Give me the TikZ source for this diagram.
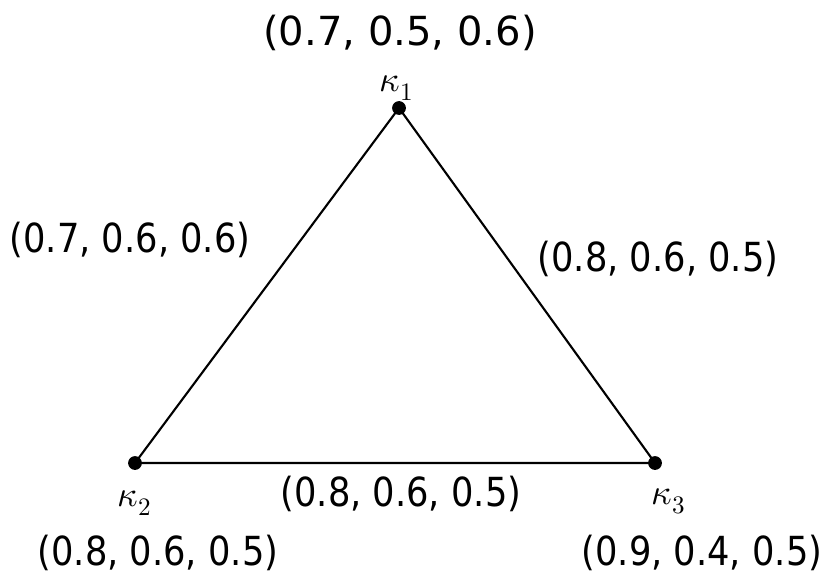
\documentclass[tikz,border=0pt]{standalone}
\usepackage{fontspec}
\setmainfont{DejaVu Sans}[FakeStretch=0.88]
\newfontfamily\widefont{DejaVu Sans}
\usepackage{unicode-math}
\setmathfont{Latin Modern Math}
\begin{document}
\begin{tikzpicture}[every node/.style={font=\fontsize{19}{22}\selectfont},
    kap/.style={font=\fontsize{17}{20}\selectfont}]
  \useasboundingbox (0,0) rectangle (13.75,9.617);
  \coordinate (k1) at (6.65,7.817);
  \coordinate (k2) at (2.25,1.9);
  \coordinate (k3) at (10.917,1.9);
  \draw[line width=1pt] (k1) -- (k2) -- (k3) -- cycle;
  \foreach \v in {k1,k2,k3}
    \fill (\v) circle (0.115);
  \node[kap] (l1) at (6.617,8.15) {$\kappa_1$};
  \node[kap] (l2) at (2.25,1.233) {$\kappa_2$};
  \node[kap] (l3) at (11.15,1.267) {$\kappa_3$};
  \node[font=\widefont\fontsize{19}{22}\selectfont] (t1) at (6.667,9.075) {(0.7, 0.5, 0.6)};
  \node (t2) at (2.633,0.4) {(0.8, 0.6, 0.5)};
  \node (t3) at (11.7,0.4) {(0.9, 0.4, 0.5)};
  \node (e12) at (2.167,5.617) {(0.7, 0.6, 0.6)};
  \node (e13) at (10.967,5.3) {(0.8, 0.6, 0.5)};
  \node (e23) at (6.683,1.392) {(0.8, 0.6, 0.5)};
\end{tikzpicture}
\end{document}
